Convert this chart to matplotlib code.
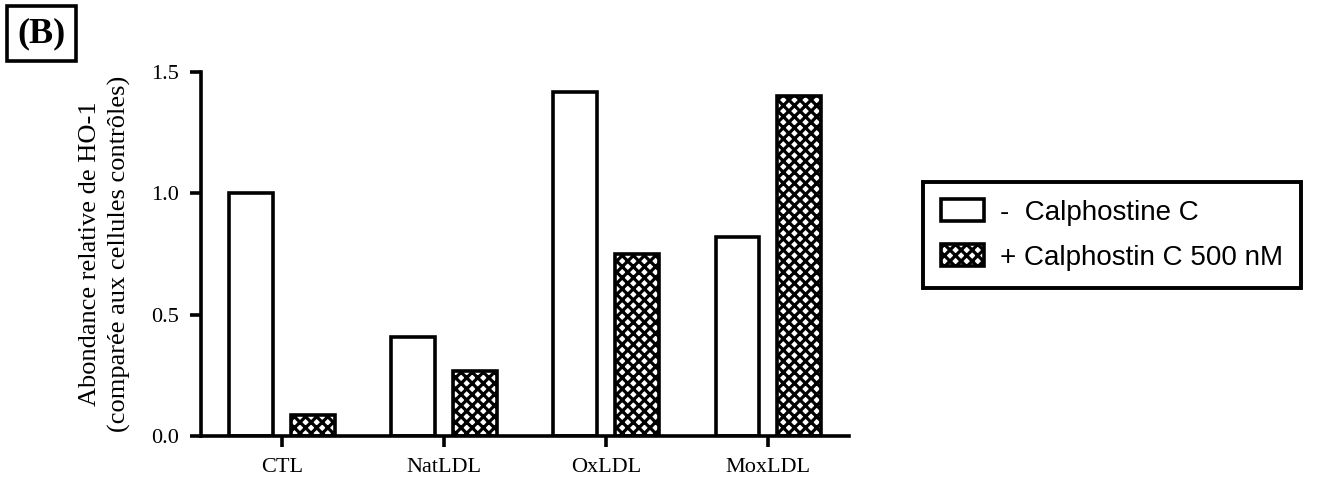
import numpy as np
import matplotlib.pyplot as plt

categories = ["CTL", "NatLDL", "OxLDL", "MoxLDL"]
sans_calph = [1.00, 0.41, 1.42, 0.82]
avec_calph = [0.087, 0.27, 0.75, 1.40]
labels = ["-  Calphostine C", "+ Calphostin C 500 nM"]

plt.rcParams['hatch.linewidth'] = 2.3

fig = plt.figure(figsize=(13.21, 4.84), dpi=100)
ax = fig.add_axes([0.152, 0.099, 0.491, 0.752])

x = np.arange(len(categories))
w = 0.27
b1 = ax.bar(x - 0.19, sans_calph, w, color='white', edgecolor='black', linewidth=2.6,
            label=labels[0])
b2 = ax.bar(x + 0.19, avec_calph, w, color='white', edgecolor='black', linewidth=2.6,
            hatch='xxx', label=labels[1])

ax.set_xlim(-0.5, 3.5)
ax.set_ylim(0, 1.5)
ax.set_yticks([0.0, 0.5, 1.0, 1.5])
ax.set_yticklabels(["0.0", "0.5", "1.0", "1.5"], fontsize=16, family='Liberation Serif')
ax.set_xticks(x)
ax.set_xticklabels(categories, fontsize=16, family='Liberation Serif')
ax.tick_params(width=2.6, length=8, direction='out', pad=8)
for s in ['top', 'right']:
    ax.spines[s].set_visible(False)
for s in ['left', 'bottom']:
    ax.spines[s].set_linewidth(2.6)

ax.set_ylabel("Abondance relative de HO-1\n(comparée aux cellules contrôles)",
              fontsize=19, family='Liberation Serif', linespacing=1.4, labelpad=14)

leg = fig.legend(handles=[b1, b2], labels=labels, loc='upper left',
                 bbox_to_anchor=(0.699, 0.624), frameon=True, fancybox=False,
                 prop={'family': 'Liberation Sans', 'size': 20},
                 handlelength=1.55, handleheight=0.85, handletextpad=0.6,
                 borderpad=0.62, labelspacing=0.65, borderaxespad=0)
leg.get_frame().set_edgecolor('black')
leg.get_frame().set_linewidth(2.8)
leg.get_frame().set_alpha(1)

fig.text(0.0314, 0.931, "(B)", fontsize=26, fontweight='bold', family='Liberation Serif',
         ha='center', va='center',
         bbox=dict(boxstyle='square,pad=0.3', facecolor='white', edgecolor='black', linewidth=2.6))

fig.savefig("out.png", dpi=100)
